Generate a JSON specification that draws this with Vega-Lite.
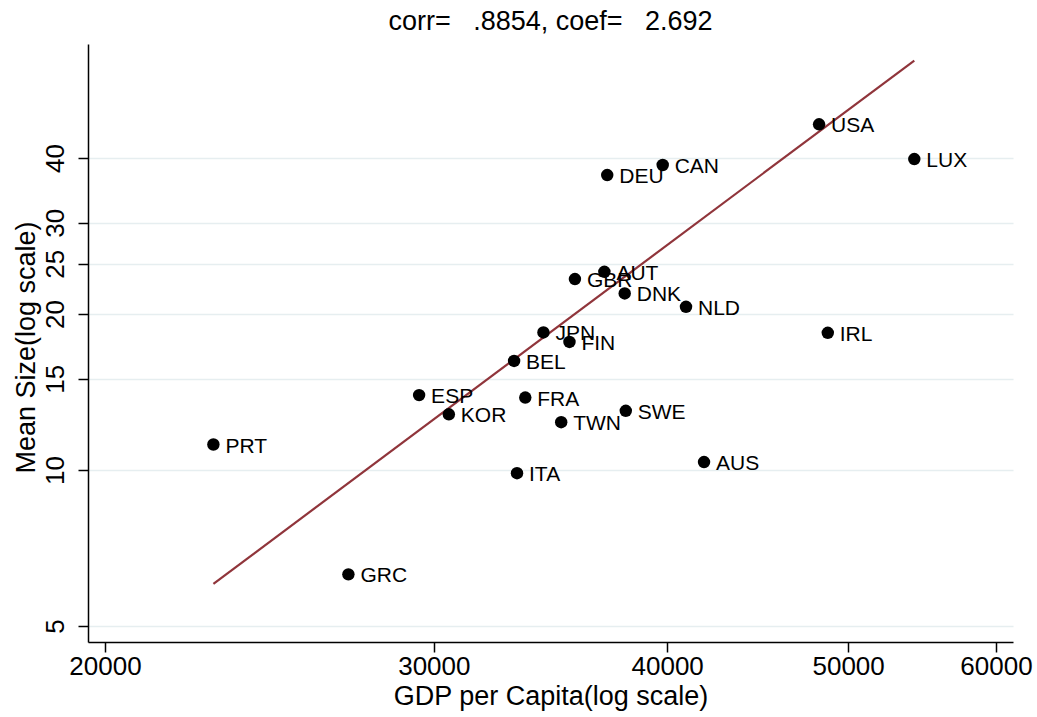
{
  "$schema": "https://vega.github.io/schema/vega-lite/v6.json",
  "width": 925,
  "height": 598,
  "autosize": {"type": "none"},
  "padding": {"left": 88, "top": 44, "right": 24, "bottom": 75},
  "background": "white",
  "config": {
    "view": {"stroke": null},
    "font": "Liberation Sans",
    "axis": {
      "domainColor": "black",
      "domainWidth": 1.5,
      "tickColor": "black",
      "tickWidth": 1.5,
      "tickSize": 10,
      "labelColor": "black",
      "titleColor": "black",
      "labelFont": "Liberation Sans",
      "titleFont": "Liberation Sans",
      "titleFontWeight": "normal"
    }
  },
  "title": {
    "text": "corr=\u00a0\u00a0\u00a0.8854, coef=\u00a0\u00a0\u00a02.692",
    "fontSize": 27,
    "fontWeight": "normal",
    "font": "Liberation Sans",
    "color": "black",
    "anchor": "middle",
    "offset": 8
  },
  "datasets": {
    "countries": [
      {"country": "USA", "gdp": 48240, "size": 46.47},
      {"country": "LUX", "gdp": 54250, "size": 39.82},
      {"country": "CAN", "gdp": 39780, "size": 38.78},
      {"country": "DEU", "gdp": 37150, "size": 37.09},
      {"country": "AUT", "gdp": 37020, "size": 24.13},
      {"country": "GBR", "gdp": 35700, "size": 23.36},
      {"country": "DNK", "gdp": 37960, "size": 21.92},
      {"country": "NLD", "gdp": 40940, "size": 20.65},
      {"country": "IRL", "gdp": 48760, "size": 18.40},
      {"country": "JPN", "gdp": 34340, "size": 18.43},
      {"country": "FIN", "gdp": 35460, "size": 17.67},
      {"country": "BEL", "gdp": 33120, "size": 16.24},
      {"country": "ESP", "gdp": 29460, "size": 13.95},
      {"country": "KOR", "gdp": 30560, "size": 12.81},
      {"country": "FRA", "gdp": 33580, "size": 13.80},
      {"country": "TWN", "gdp": 35100, "size": 12.37},
      {"country": "SWE", "gdp": 38010, "size": 13.01},
      {"country": "ITA", "gdp": 33240, "size": 9.86},
      {"country": "AUS", "gdp": 41860, "size": 10.36},
      {"country": "PRT", "gdp": 22860, "size": 11.20},
      {"country": "GRC", "gdp": 27000, "size": 6.29}
    ],
    "fit": [
      {"gdp": 22860, "size": 6.03},
      {"gdp": 54250, "size": 61.7}
    ]
  },
  "encoding": {
    "x": {
      "field": "gdp",
      "type": "quantitative",
      "scale": {"type": "log", "domain": [19585, 61270], "nice": false, "zero": false},
      "axis": {
        "title": "GDP per Capita(log scale)",
        "values": [20000, 30000, 40000, 50000, 60000],
        "format": "d",
        "grid": false,
        "labelFontSize": 26,
        "labelPadding": 1,
        "titleFontSize": 27,
        "titlePadding": 4
      }
    },
    "y": {
      "field": "size",
      "type": "quantitative",
      "scale": {"type": "log", "domain": [4.657, 66.4], "nice": false, "zero": false},
      "axis": {
        "title": "Mean Size(log scale)",
        "values": [5, 10, 15, 20, 25, 30, 40],
        "format": "d",
        "grid": true,
        "gridColor": "#e6eef0",
        "gridWidth": 1.5,
        "labelAngle": -90,
        "labelAlign": "center",
        "labelBaseline": "alphabetic",
        "labelFontSize": 26,
        "labelPadding": 15,
        "titleFontSize": 27,
        "titleAngle": -90,
        "titleAlign": "center",
        "titleBaseline": "middle",
        "titleX": -62,
        "titleY": 303
      }
    }
  },
  "layer": [
    {
      "data": {"name": "fit"},
      "mark": {"type": "line", "color": "#90353B", "strokeWidth": 2.2}
    },
    {
      "data": {"name": "countries"},
      "mark": {"type": "point", "shape": "circle", "filled": true, "color": "black", "opacity": 1, "size": 155}
    },
    {
      "data": {"name": "countries"},
      "mark": {"type": "text", "align": "left", "baseline": "middle", "dx": 12, "dy": 2, "fontSize": 21, "color": "black", "font": "Liberation Sans"},
      "encoding": {"text": {"field": "country", "type": "nominal"}}
    }
  ]
}
